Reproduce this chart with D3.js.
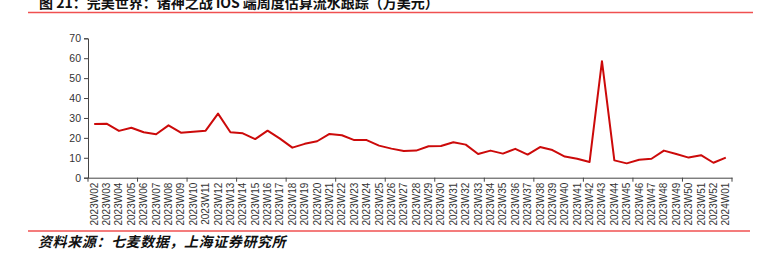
<!DOCTYPE html>
<html>
<head>
<meta charset="utf-8">
<script src="https://cdn.jsdelivr.net/npm/d3@7"></script>
<style>
  html, body { margin: 0; padding: 0; background: #fff; }
  svg { display: block; }
  .tick-label { font-family: "Liberation Sans", Arial, sans-serif; fill: #333; }
</style>
</head>
<body>
<div id="chart"></div>
<script>
// Weekly estimated iOS revenue (10k USD)
const weeks = [
  "2023W02","2023W03","2023W04","2023W05","2023W06","2023W07","2023W08","2023W09",
  "2023W10","2023W11","2023W12","2023W13","2023W14","2023W15","2023W16","2023W17",
  "2023W18","2023W19","2023W20","2023W21","2023W22","2023W23","2023W24","2023W25",
  "2023W26","2023W27","2023W28","2023W29","2023W30","2023W31","2023W32","2023W33",
  "2023W34","2023W35","2023W36","2023W37","2023W38","2023W39","2023W40","2023W41",
  "2023W42","2023W43","2023W44","2023W45","2023W46","2023W47","2023W48","2023W49",
  "2023W50","2023W51","2023W52","2024W01"
];
const revenue = [
  27.0, 27.1, 23.5, 25.1, 22.8, 21.8, 26.3, 22.6,
  23.1, 23.6, 32.2, 22.8, 22.3, 19.4, 23.6, 19.6,
  15.1, 17.0, 18.3, 22.0, 21.3, 18.9, 18.9, 16.1,
  14.6, 13.4, 13.6, 15.8, 15.9, 17.8, 16.6, 11.9,
  13.6, 12.1, 14.5, 11.6, 15.4, 13.9, 10.6, 9.5,
  7.9, 58.5, 8.7, 7.2, 9.0, 9.5, 13.6, 11.9,
  10.1, 11.3, 7.5, 10.1
];
const yTicks = [0, 10, 20, 30, 40, 50, 60, 70];
const titleText = "图 21：完美世界：诸神之战 iOS 端周度估算流水跟踪（万美元）";
const sourceText = "资料来源：七麦数据，上海证券研究所";

const width = 764, height = 259;
const svg = d3.select("#chart").append("svg")
  .attr("width", width)
  .attr("height", height);

// header / footer
svg.append("text")
  .attr("x", 39).attr("y", 8)
  .attr("font-family", "'Noto Sans CJK SC', sans-serif")
  .attr("font-weight", "bold")
  .attr("font-size", 14)
  .attr("fill", "#111")
  .text(titleText);

svg.append("line")
  .attr("x1", 28).attr("x2", 753).attr("y1", 12.5).attr("y2", 12.5)
  .attr("stroke", "#f05050").attr("stroke-width", 1.5);

svg.append("line")
  .attr("x1", 28).attr("x2", 750).attr("y1", 231).attr("y2", 231)
  .attr("stroke", "#f05050").attr("stroke-width", 1.5);

svg.append("text")
  .attr("x", 38).attr("y", 247)
  .attr("font-family", "'Noto Sans CJK SC', sans-serif")
  .attr("font-weight", "bold")
  .attr("font-style", "italic")
  .attr("font-size", 14)
  .attr("letter-spacing", 0.6)
  .attr("fill", "#111")
  .text(sourceText);

// scales
const x = d3.scaleBand().domain(weeks).range([88, 732]).padding(0);
const y = d3.scaleLinear().domain([0, 70]).range([177.7, 38.3]);

// y axis
const yAxis = svg.append("g")
  .attr("transform", "translate(88,0)")
  .call(d3.axisLeft(y).tickValues(yTicks).tickSize(4).tickPadding(3));
yAxis.select(".domain").attr("stroke", "#444");
yAxis.selectAll(".tick line").attr("stroke", "#444");
yAxis.selectAll(".tick text")
  .attr("class", "tick-label")
  .attr("font-size", 10.5);

// x axis: labels at band centres, tick marks every 4 bands
const xAxis = svg.append("g")
  .attr("transform", `translate(0,${y(0)})`)
  .call(d3.axisBottom(x).tickSize(0).tickPadding(0));
xAxis.select(".domain").attr("stroke", "#444");
xAxis.selectAll(".tick text")
  .attr("class", "tick-label")
  .attr("font-size", 10)
  .attr("text-anchor", "end")
  .attr("transform", "translate(0,5) rotate(-90)")
  .attr("x", 0)
  .attr("y", 0)
  .attr("dy", "0.35em");

const boundaries = weeks.filter((d, i) => i % 4 === 0).map(d => x(d)).concat([x.range()[1]]);
svg.append("g")
  .selectAll("line")
  .data(boundaries)
  .join("line")
  .attr("x1", d => d).attr("x2", d => d)
  .attr("y1", y(0)).attr("y2", y(0) + 4)
  .attr("stroke", "#444");

// line series
const line = d3.line()
  .x((d, i) => x(weeks[i]) + x.bandwidth() / 2)
  .y(d => y(d));

svg.append("path")
  .datum(revenue)
  .attr("fill", "none")
  .attr("stroke", "#cc0a0a")
  .attr("stroke-width", 2)
  .attr("stroke-linejoin", "round")
  .attr("d", line);
</script>
</body>
</html>
